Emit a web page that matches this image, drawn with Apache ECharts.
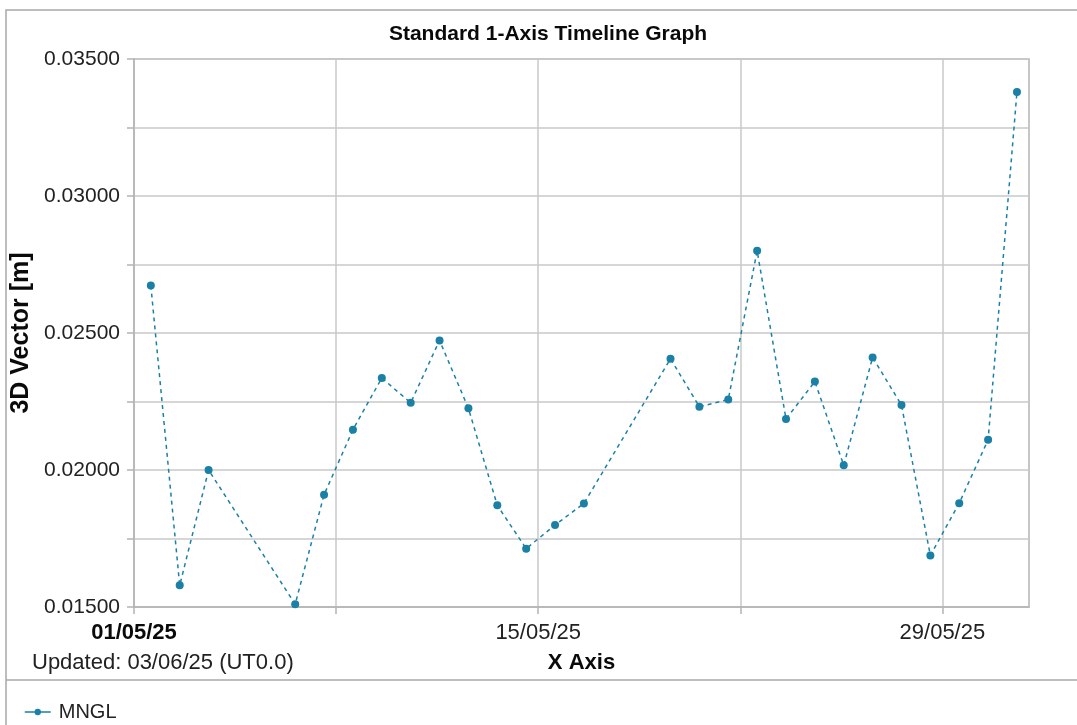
<!DOCTYPE html>
<html>
<head>
<meta charset="utf-8">
<script src="https://cdn.jsdelivr.net/npm/echarts@6/dist/echarts.min.js"></script>
<style>
html,body{margin:0;padding:0;background:#fff;}
#chart{width:1077px;height:725px;}
</style>
</head>
<body>
<div id="chart"></div>
<script>
// ---- data ----
const seriesName = 'MNGL';
const dates = [
  '2025-05-01 14:00','2025-05-02 14:00','2025-05-03 14:00','2025-05-06 14:00','2025-05-07 14:00',
  '2025-05-08 14:00','2025-05-09 14:00','2025-05-10 14:00','2025-05-11 14:00','2025-05-12 14:00',
  '2025-05-13 14:00','2025-05-14 14:00','2025-05-15 14:00','2025-05-16 14:00','2025-05-19 14:00',
  '2025-05-20 14:00','2025-05-21 14:00','2025-05-22 14:00','2025-05-23 14:00','2025-05-24 14:00',
  '2025-05-25 14:00','2025-05-26 14:00','2025-05-27 14:00','2025-05-28 14:00','2025-05-29 14:00',
  '2025-05-30 14:00','2025-05-31 14:00'
];
const values = [
  0.02673,0.01579,0.02000,0.01510,0.01910,
  0.02147,0.02336,0.02245,0.02473,0.02225,
  0.01871,0.01713,0.01799,0.01878,0.02406,
  0.02231,0.02257,0.02800,0.02186,0.02323,
  0.02017,0.02411,0.02237,0.01688,0.01879,
  0.02110,0.03380
];
const xStart = '2025-05-01 00:00';
const xEnd = '2025-06-01 00:00';
const xTickDays = 7;
const xLabelDays = [0, 14, 28];
const yMin = 0.015, yMax = 0.035, yStep = 0.0025;
const titleText = 'Standard 1-Axis Timeline Graph';
const xName = 'X Axis';
const yName = '3D Vector [m]';
const updatedText = 'Updated: 03/06/25 (UT0.0)';

// ---- helpers ----
function toMs(s){
  const [d,t] = s.split(' ');
  const [Y,M,D] = d.split('-').map(Number);
  const [h,m] = t.split(':').map(Number);
  return Date.UTC(Y, M-1, D, h, m);
}
const DAY = 86400000;
const t0 = toMs(xStart);
const dayOf = s => (toMs(s) - t0) / DAY;
const data = dates.map((d,i) => [dayOf(d), values[i]]);
function fmtDay(v){
  const dt = new Date(t0 + v*DAY);
  const p = n => String(n).padStart(2,'0');
  return p(dt.getUTCDate()) + '/' + p(dt.getUTCMonth()+1) + '/' + String(dt.getUTCFullYear()).slice(2);
}

const FONT = 'Arial, "Liberation Sans", sans-serif';
const LINE = '#1a80a6';
const GRID = '#c8c8c8';

const chart = echarts.init(document.getElementById('chart'));
chart.setOption({
  backgroundColor: '#fff',
  animation: false,
  title: {
    text: titleText,
    left: 543, top: 19, textAlign: 'center',
    textStyle: {fontFamily: FONT, fontSize: 21, fontWeight: 'bold', color: '#0a0a0a'}
  },
  grid: {
    left: 134, right: 48, top: 59, bottom: 118,
    show: true, borderColor: '#b4b4b4', borderWidth: 1.5, backgroundColor: '#fff'
  },
  legend: {
    left: 19, top: 697,
    itemWidth: 26, itemHeight: 8,
    lineStyle: {type: 'solid', width: 1.5},
    textStyle: {fontFamily: FONT, fontSize: 20, color: '#222', padding: [0,0,0,3]},
    data: [seriesName]
  },
  xAxis: {
    type: 'value',
    min: 0, max: dayOf(xEnd), interval: xTickDays,
    name: xName, nameLocation: 'middle', nameGap: 45,
    nameTextStyle: {fontFamily: FONT, fontSize: 22, fontWeight: 'bold', color: '#0a0a0a'},
    axisLine: {show: true, lineStyle: {color: '#b4b4b4', width: 1.5}},
    axisTick: {show: true, length: 7, lineStyle: {color: '#b4b4b4', width: 1.5},
      customValues: [0, 7, 14, 21, 28]},
    splitLine: {show: true, lineStyle: {color: GRID, width: 1.5}},
    axisLabel: {
      margin: 15,
      fontFamily: FONT, fontSize: 22, color: '#222',
      formatter: function(v){
        const r = Math.round(v);
        if (Math.abs(v - r) > 1e-6 || xLabelDays.indexOf(r) < 0) return '';
        return r === 0 ? '{b|' + fmtDay(r) + '}' : fmtDay(r);
      },
      rich: {b: {fontFamily: FONT, fontSize: 22, fontWeight: 'bold', color: '#0a0a0a'}}
    }
  },
  yAxis: {
    type: 'value',
    min: yMin, max: yMax, interval: yStep,
    name: yName, nameLocation: 'middle', nameGap: 100, nameRotate: 90,
    nameTextStyle: {fontFamily: FONT, fontSize: 25, fontWeight: 'bold', color: '#0a0a0a'},
    axisLine: {show: true, lineStyle: {color: '#b4b4b4', width: 1.5}},
    axisTick: {show: true, length: 7, lineStyle: {color: '#b4b4b4', width: 1.5}},
    splitLine: {show: true, lineStyle: {color: GRID, width: 1.5}},
    axisLabel: {
      margin: 14,
      fontFamily: FONT, fontSize: 21, color: '#222',
      formatter: function(v){
        const k = Math.round(v / yStep);
        return (k % 2 === 0) ? v.toFixed(5) : '';
      }
    }
  },
  series: [{
    name: seriesName,
    type: 'line',
    data: data,
    symbol: 'circle', symbolSize: 8,
    itemStyle: {color: LINE},
    lineStyle: {color: LINE, width: 1.5, type: [4, 4]}
  }],
  graphic: [
    {type: 'rect', silent: true, z: -1, shape: {x: 6, y: 10, width: 1100, height: 800},
      style: {fill: 'none', stroke: '#a8a8a8', lineWidth: 1.5}},
    {type: 'line', silent: true, shape: {x1: 6, y1: 680, x2: 1077, y2: 680},
      style: {stroke: '#a8a8a8', lineWidth: 1.5}},
    {type: 'text', silent: true, x: 32, y: 663,
      style: {text: updatedText, font: '22px ' + FONT, fill: '#222', textVerticalAlign: 'middle'}}
  ]
});
</script>
</body>
</html>
